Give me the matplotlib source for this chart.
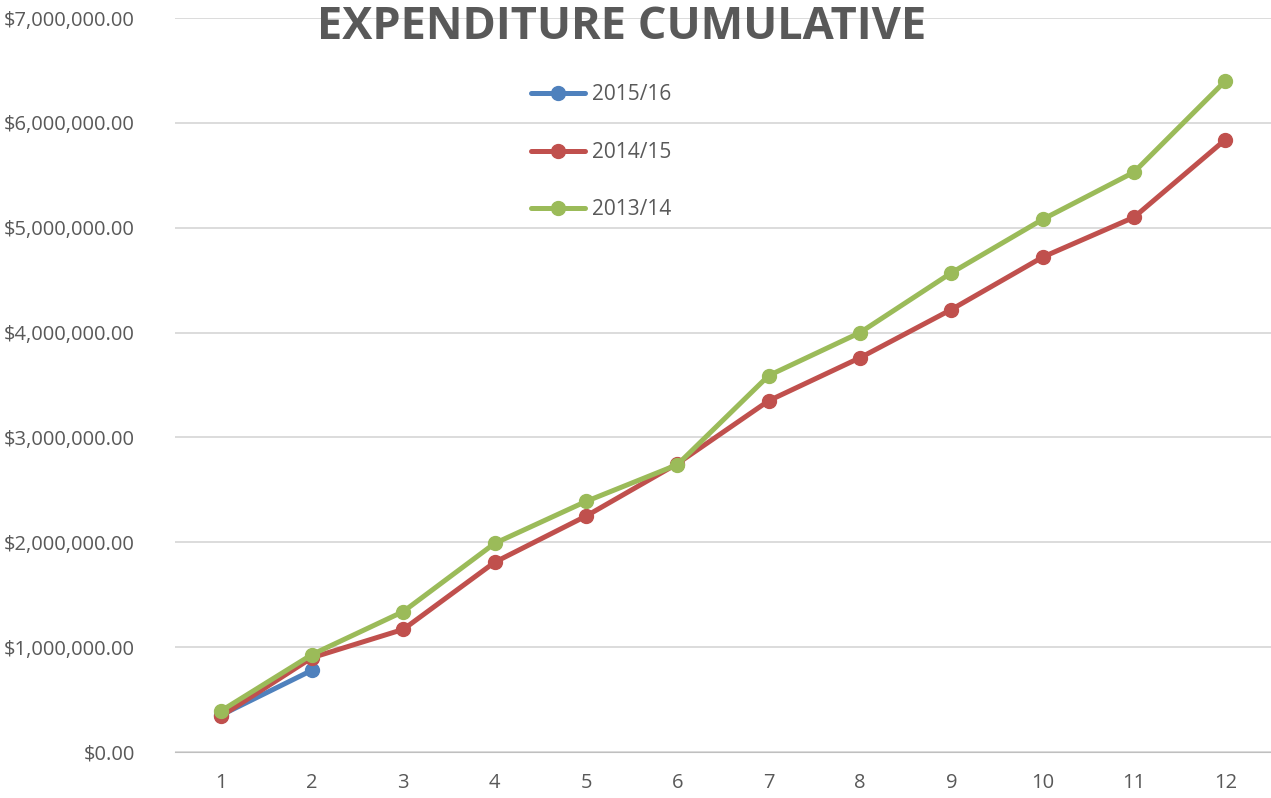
import matplotlib
matplotlib.use("Agg")
import matplotlib.pyplot as plt
import matplotlib.ticker as ticker

months = [1, 2, 3, 4, 5, 6, 7, 8, 9, 10, 11, 12]
fy_2015_16 = [350000, 780000]
fy_2014_15 = [340000, 900000, 1170000, 1810000, 2250000, 2750000,
              3350000, 3760000, 4220000, 4720000, 5100000, 5840000]
fy_2013_14 = [390000, 930000, 1340000, 1990000, 2390000, 2740000,
              3590000, 4000000, 4570000, 5080000, 5530000, 6400000]

TEXT = "#595959"
plt.rcParams['font.family'] = ['Open Sans', 'DejaVu Sans']

fig = plt.figure(figsize=(12.71, 7.98), dpi=100)
ax = fig.add_axes([0.1377, 0.0576, 0.8623, 0.9198])

style = dict(linewidth=3.6, marker="o", markersize=10, solid_capstyle="round")
ax.plot(months[:len(fy_2015_16)], fy_2015_16, color="#4F81BD", label="2015/16", **style)
ax.plot(months, fy_2014_15, color="#C0504D", label="2014/15", **style)
ax.plot(months, fy_2013_14, color="#9BBB59", label="2013/14", **style)

ax.set_xlim(0.5, 12.5)
ax.set_ylim(0, 7000000)
ax.set_xticks(months)
ax.yaxis.set_major_locator(ticker.MultipleLocator(1000000))
ax.yaxis.set_major_formatter(ticker.FuncFormatter(lambda v, p: "${:,.2f}".format(v)))
ax.grid(axis="y", color="#D9D9D9", linewidth=1.3)
ax.set_axisbelow(True)
for s in ["top", "right", "left"]:
    ax.spines[s].set_visible(False)
ax.spines["bottom"].set_color("#BFBFBF")
ax.tick_params(axis="both", length=0, labelsize=14.5, labelcolor=TEXT, pad=15)
ax.tick_params(axis="y", pad=29)

fig.text(0.489, 0.966, "EXPENDITURE CUMULATIVE", ha="center", va="center",
         fontsize=32.5, fontweight="bold", color=TEXT)

leg = ax.legend(loc="upper left", bbox_to_anchor=(0.308, 0.935), frameon=False,
                fontsize=15, labelspacing=1.75, handlelength=2.6, handletextpad=0.3,
                labelcolor=TEXT)

fig.savefig("out.png", dpi=100)
